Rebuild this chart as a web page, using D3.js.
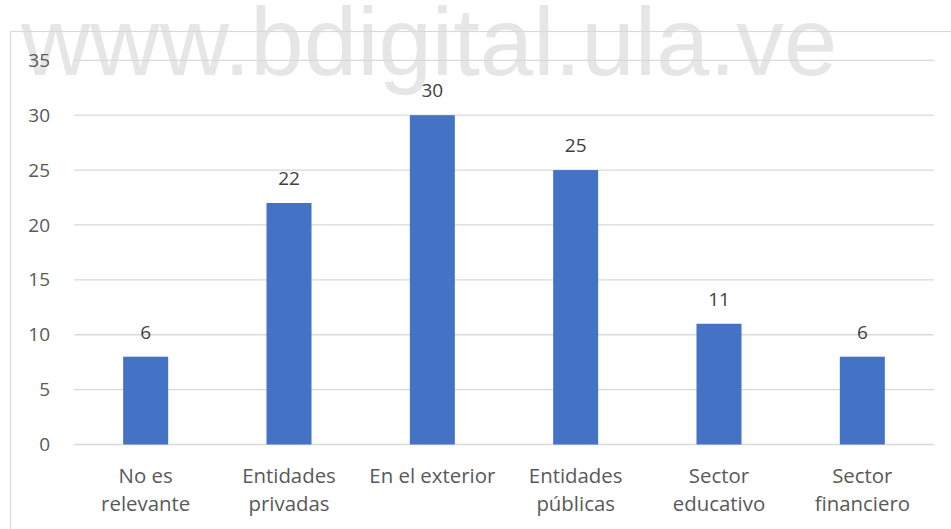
<!DOCTYPE html>
<head>
  <meta charset="utf-8">
  <script src="https://d3js.org/d3.v7.min.js"></script>
  <style>
    body { margin:0; background:#fff; }
    .tick text { fill:#595959; font-family:"Open Sans", sans-serif; }
    .value { fill:#404040; font-family:"Open Sans", sans-serif; font-size:19px; text-anchor:middle; }
    .cat { fill:#595959; font-family:"Open Sans", sans-serif; font-size:20.4px; text-anchor:middle; }
    .watermark { fill:#e6e6e6; font-family:"Liberation Sans", Arial, sans-serif; font-size:96px; }
  </style>
</head>
<body>
  <div class="chart"></div>
  <script>
    // categories (two-line labels) and bar heights as drawn
    const categories = [
      ['No es', 'relevante'],
      ['Entidades', 'privadas'],
      ['En el exterior'],
      ['Entidades', 'públicas'],
      ['Sector', 'educativo'],
      ['Sector', 'financiero']
    ];
    const values = [8, 22, 30, 25, 11, 8];
    // the data labels printed above the bars
    const valueLabels = ['6', '22', '30', '25', '11', '6'];
    const yTicks = [0, 5, 10, 15, 20, 25, 30, 35];

    const fullWidth = 951, fullHeight = 529;
    const margin = { top: 60.3, right: 17, bottom: 84.5, left: 74 };
    const width = fullWidth - margin.left - margin.right;
    const height = fullHeight - margin.top - margin.bottom;

    const root = d3.select('.chart')
      .append('svg')
        .attr('width', fullWidth)
        .attr('height', fullHeight);

    // watermark sits behind everything
    root.append('text')
      .attr('class', 'watermark')
      .attr('x', 21)
      .attr('y', 75)
      .text('www.bdigital.ula.ve');

    // chart area border (runs off the right and bottom edges)
    root.append('rect')
      .attr('x', 10.5).attr('y', 31.5)
      .attr('width', 960).attr('height', 520)
      .attr('fill', 'none')
      .attr('stroke', '#d9d9d9')
      .attr('stroke-width', 1.2);

    const svg = root.append('g')
      .attr('transform', `translate(${margin.left}, ${margin.top})`);

    const idx = d3.range(categories.length);

    const xScale = d3.scaleBand()
      .domain(idx)
      .range([0, width])
      .padding(0);

    const barWidth = xScale.bandwidth() * 0.314;

    const yScale = d3.scaleLinear()
      .domain([0, 35])
      .range([height, 0]);

    // gridlines
    svg.selectAll('.grid')
      .data(yTicks)
      .enter()
      .append('line')
      .attr('x1', 0)
      .attr('x2', width)
      .attr('y1', d => yScale(d))
      .attr('y2', d => yScale(d))
      .attr('stroke', '#d9d9d9')
      .attr('stroke-width', 1.3);

    const yAxis = d3.axisLeft(yScale)
      .tickValues(yTicks)
      .tickSize(0)
      .tickPadding(24);

    svg.append('g')
      .call(yAxis)
      .call(g => g.select('.domain').remove())
      .selectAll('text')
        .style('font-size', '19px');

    svg.selectAll('.bar')
      .data(values)
      .enter()
      .append('rect')
      .attr('class', 'bar')
      .attr('x', (d, i) => xScale(i) + (xScale.bandwidth() - barWidth) / 2)
      .attr('width', barWidth)
      .attr('y', d => yScale(d))
      .attr('height', d => height - yScale(d))
      .attr('fill', '#4472c4');

    svg.selectAll('.value')
      .data(values)
      .enter()
      .append('text')
      .attr('class', 'value')
      .attr('x', (d, i) => xScale(i) + xScale.bandwidth() / 2)
      .attr('y', d => yScale(d) - 18)
      .text((d, i) => valueLabels[i]);

    const cats = svg.selectAll('.cat')
      .data(categories)
      .enter()
      .append('text')
      .attr('class', 'cat')
      .attr('x', (d, i) => xScale(i) + xScale.bandwidth() / 2)
      .attr('y', height + 39);

    cats.selectAll('tspan')
      .data(d => d)
      .enter()
      .append('tspan')
      .attr('x', function () { return d3.select(this.parentNode).attr('x'); })
      .attr('dy', (d, i) => i === 0 ? 0 : 28)
      .text(d => d);
  </script>
</body>
